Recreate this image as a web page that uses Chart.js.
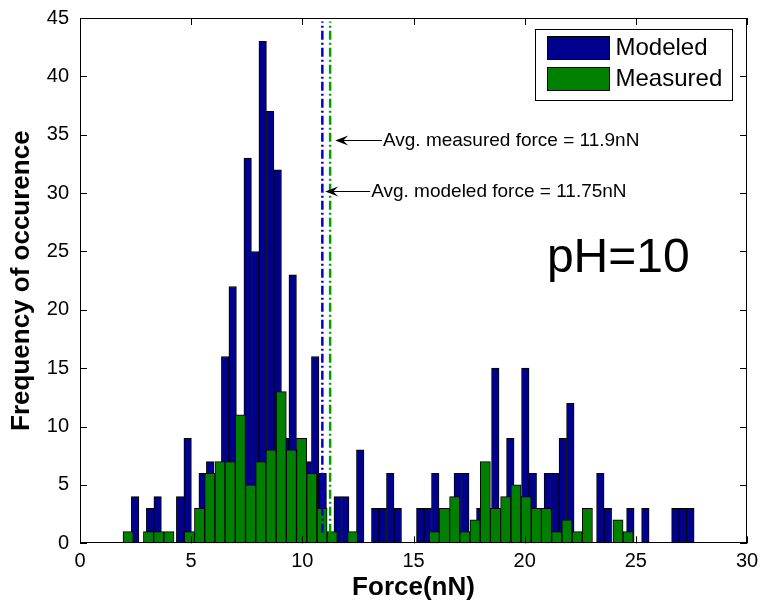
<!DOCTYPE html>
<html>
<head>
<meta charset="utf-8">
<script src="https://cdn.jsdelivr.net/npm/chart.js@4.4.1/dist/chart.umd.min.js"></script>
<style>
  html, body { margin: 0; padding: 0; background: #fff; }
</style>
</head>
<body>
<canvas id="myChart" width="760" height="610"></canvas>
<script>
// histogram bins (force in nN)
var modeledStart = 2.31, modeledBinWidth = 0.3375;
var measuredStart = 1.935, measuredBinWidth = 0.459;

var modeledCounts = [
    4, 0, 3, 4, 0, 0, 4, 9, 0, 6,
    7, 5, 16, 22, 8, 33, 25, 43, 37, 32,
    9, 23, 8, 7, 16, 6, 0, 4, 4, 0,
    8, 0, 3, 3, 6, 3, 0, 0, 3, 3,
    6, 0, 0, 6, 6, 0, 3, 0, 15, 0,
    9, 0, 15, 6, 0, 6, 6, 9, 12, 0,
    0, 0, 6, 3, 0, 0, 3, 0, 3, 0,
    0, 0, 3, 3, 3
];
var measuredCounts = [
    1, 0, 1, 1, 1, 0, 1, 3, 6, 7,
    7, 11, 5, 7, 8, 13, 8, 9, 6, 3,
    1, 0, 1, 0, 0, 0, 0, 0, 0, 0,
    1, 3, 4, 1, 2, 7, 3, 4, 5, 4,
    3, 3, 1, 2, 1, 3, 0, 0, 2, 1
];

// average lines as drawn in the figure
var avgModeledX = 10.9, avgMeasuredX = 11.25;
var avgLineSpan = [0.9, 44.7];

var seriesLabels = ['Modeled', 'Measured'];
var noteTexts = ['Avg. measured force = 11.9nN', 'Avg. modeled force = 11.75nN'];
var panelText = 'pH=10';

function binPoints(start, width, counts) {
    return counts.map(function (c, i) {
        return { x: start + (i + 0.5) * width, y: c };
    });
}

var FONT = "'Liberation Sans', Arial, Helvetica, sans-serif";
Chart.defaults.font.family = FONT;
Chart.defaults.color = '#000';

var decorations = {
    id: 'decorations',
    afterDraw: function (chart) {
        var ctx = chart.ctx, a = chart.chartArea;
        var xs = chart.scales.x, ys = chart.scales.y;
        ctx.save();

        // axes box with inward ticks
        ctx.strokeStyle = '#000';
        ctx.lineWidth = 1;
        ctx.strokeRect(Math.round(a.left) + 0.5, Math.round(a.top) + 0.5,
            Math.round(a.right - a.left) - 1, Math.round(a.bottom - a.top) - 1);
        ctx.beginPath();
        xs.ticks.forEach(function (t) {
            var px = Math.round(xs.getPixelForValue(t.value)) + 0.5;
            ctx.moveTo(px, a.bottom); ctx.lineTo(px, a.bottom - 7);
            ctx.moveTo(px, a.top); ctx.lineTo(px, a.top + 7);
        });
        ys.ticks.forEach(function (t) {
            var py = Math.round(ys.getPixelForValue(t.value)) + 0.5;
            ctx.moveTo(a.left, py); ctx.lineTo(a.left + 7, py);
            ctx.moveTo(a.right, py); ctx.lineTo(a.right - 7, py);
        });
        ctx.stroke();

        // legend box, top right
        var bx = Math.round(a.right - 212) + 0.5, by = Math.round(a.top + 11) + 0.5;
        ctx.fillStyle = '#fff';
        ctx.fillRect(bx, by, 197, 71);
        ctx.strokeRect(bx, by, 197, 71);
        ctx.font = '24px ' + FONT;
        ctx.textBaseline = 'middle';
        ctx.textAlign = 'left';
        [0, 1].forEach(function (i) {
            var ds = chart.data.datasets[i];
            var sy = by + 7 + i * 31;
            ctx.fillStyle = ds.backgroundColor;
            ctx.fillRect(bx + 12, sy, 62, 23);
            ctx.strokeRect(bx + 12, sy, 62, 23);
            ctx.fillStyle = '#000';
            ctx.fillText(ds.label, bx + 80, sy + 12);
        });

        // arrow notes pointing at the average lines
        function note(text, tipX, textX, yv) {
            var y = Math.round(ys.getPixelForValue(yv)) + 0.5;
            var tip = xs.getPixelForValue(tipX);
            var tx = xs.getPixelForValue(textX);
            ctx.strokeStyle = '#000';
            ctx.lineWidth = 1.2;
            ctx.beginPath();
            ctx.moveTo(tx, y); ctx.lineTo(tip + 6, y);
            ctx.stroke();
            ctx.beginPath();
            ctx.moveTo(tip, y);
            ctx.lineTo(tip + 13, y - 5);
            ctx.lineTo(tip + 8, y);
            ctx.lineTo(tip + 13, y + 5);
            ctx.closePath();
            ctx.fillStyle = '#000';
            ctx.fill();
            ctx.font = '19px ' + FONT;
            ctx.textBaseline = 'middle';
            ctx.fillText(text, tx + 1, y);
        }
        note(noteTexts[0], 11.48, 13.58, 34.57);
        note(noteTexts[1], 11.03, 13.05, 30.14);

        // panel label
        ctx.font = '48px ' + FONT;
        ctx.textBaseline = 'alphabetic';
        ctx.fillStyle = '#000';
        ctx.fillText(panelText, xs.getPixelForValue(21.0), ys.getPixelForValue(23.2));
        ctx.restore();
    }
};

window.onload = function () {
    var ctx = document.getElementById('myChart').getContext('2d');
    window.myChart = new Chart(ctx, {
        type: 'bar',
        data: {
            datasets: [{
                label: seriesLabels[0],
                data: binPoints(modeledStart, modeledBinWidth, modeledCounts),
                xAxisID: 'x',
                backgroundColor: '#00008f',
                borderColor: '#000',
                borderWidth: 1,
                barPercentage: 1,
                categoryPercentage: 1,
                grouped: false,
                order: 3
            }, {
                label: seriesLabels[1],
                data: binPoints(measuredStart, measuredBinWidth, measuredCounts),
                xAxisID: 'x2',
                backgroundColor: '#008000',
                borderColor: '#000',
                borderWidth: 1,
                barPercentage: 1,
                categoryPercentage: 1,
                grouped: false,
                order: 2
            }, {
                type: 'line',
                label: 'avg modeled',
                data: [{ x: avgModeledX, y: avgLineSpan[0] }, { x: avgModeledX, y: avgLineSpan[1] }],
                xAxisID: 'x',
                borderColor: '#0000cc',
                borderWidth: 2.5,
                borderDash: [9, 3, 2, 3],
                pointRadius: 0,
                fill: false,
                order: 1
            }, {
                type: 'line',
                label: 'avg measured',
                data: [{ x: avgMeasuredX, y: avgLineSpan[0] }, { x: avgMeasuredX, y: avgLineSpan[1] }],
                xAxisID: 'x',
                borderColor: '#00a000',
                borderWidth: 2.5,
                borderDash: [9, 3, 2, 3],
                pointRadius: 0,
                fill: false,
                order: 0
            }]
        },
        options: {
            responsive: false,
            animation: false,
            devicePixelRatio: 1,
            layout: { padding: { top: 18, right: 13, left: 0, bottom: 0 } },
            plugins: {
                legend: { display: false },
                tooltip: { enabled: false }
            },
            scales: {
                x: {
                    type: 'linear',
                    position: 'bottom',
                    min: 0,
                    max: 30,
                    offset: false,
                    grid: { display: false, drawTicks: false },
                    border: { display: false },
                    ticks: { stepSize: 5, padding: 6, font: { size: 20 }, maxRotation: 0 },
                    title: {
                        display: true,
                        text: 'Force(nN)',
                        font: { size: 26, weight: 'bold' },
                        padding: { top: 0, bottom: 7 }
                    },
                    afterFit: function (s) {
                        s.height = 66.7;
                        s.paddingLeft = 0;
                        s.paddingRight = 0;
                    }
                },
                x2: {
                    type: 'linear',
                    position: 'bottom',
                    display: false,
                    min: 0,
                    max: 30,
                    offset: false
                },
                y: {
                    min: 0,
                    max: 45,
                    grid: { display: false, drawTicks: false },
                    border: { display: false },
                    ticks: { stepSize: 5, padding: 11, font: { size: 20 } },
                    title: {
                        display: true,
                        text: 'Frequency of occurence',
                        font: { size: 26, weight: 'bold' },
                        padding: { top: 6, bottom: 0 }
                    },
                    afterFit: function (s) {
                        s.width = 80;
                        s.paddingTop = 0;
                        s.paddingBottom = 0;
                    }
                }
            }
        },
        plugins: [decorations]
    });
};
</script>
</body>
</html>
